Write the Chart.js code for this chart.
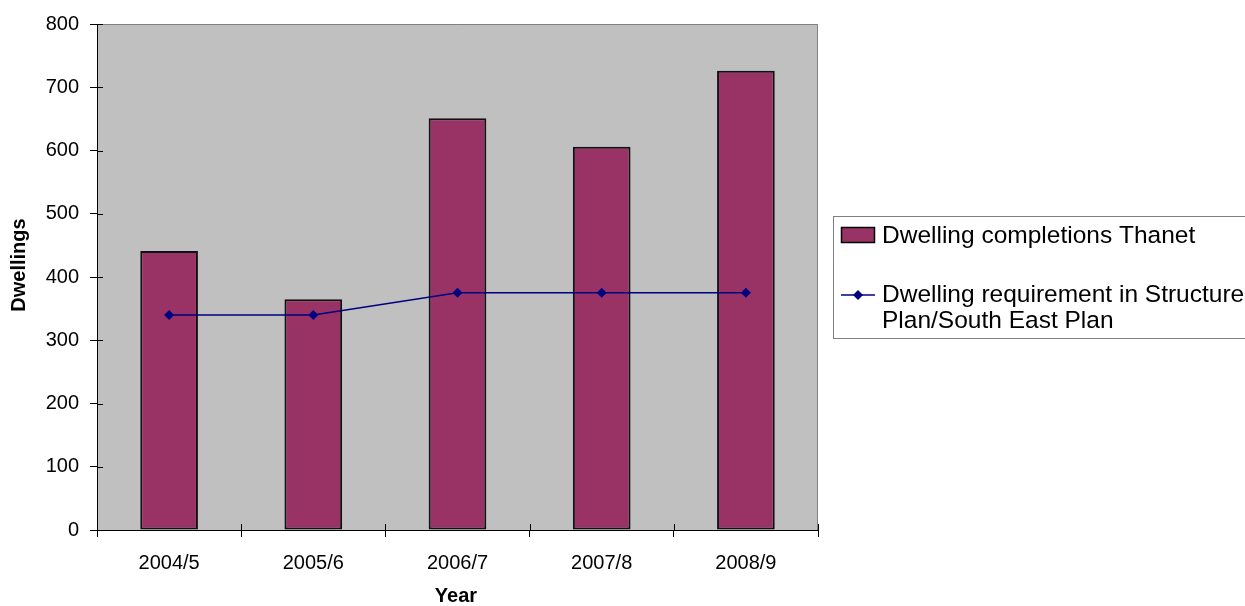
<!DOCTYPE html>
<html>
<head>
<meta charset="utf-8">
<title>Dwelling completions</title>
<script src="https://cdn.jsdelivr.net/npm/chart.js@4.4.1/dist/chart.umd.min.js"></script>
<style>
  html, body { margin: 0; padding: 0; background: #fff; }
  #wrap { width: 1245px; height: 606px; }
</style>
</head>
<body>
<div id="wrap"><canvas id="myChart" width="1245" height="606"></canvas></div>
<script>
const years = ['2004/5', '2005/6', '2006/7', '2007/8', '2008/9'];
const completions = [441, 365, 651, 606, 726];
const requirement = [340, 340, 375, 375, 375];
const barLabel = 'Dwelling completions Thanet';
const lineLabel = ['Dwelling requirement in Structure', 'Plan/South East Plan'];
const yTicks = { min: 0, max: 800, step: 100 };
const xTitle = 'Year';
const yTitle = 'Dwellings';

const barColor = '#993366';
const lineColor = '#000080';
const plotGrey = '#c0c0c0';
const frameGrey = '#808080';
const fontFamily = '"Liberation Sans", Arial, sans-serif';

Chart.defaults.font.family = fontFamily;
Chart.defaults.font.size = 20;
Chart.defaults.color = '#000';

// grey plot area with a thin frame on top and right
const plotArea = {
  id: 'plotArea',
  beforeDraw(chart) {
    const { ctx, chartArea: a } = chart;
    ctx.save();
    ctx.fillStyle = plotGrey;
    ctx.fillRect(a.left, a.top, a.right - a.left, a.bottom - a.top);
    ctx.strokeStyle = frameGrey;
    ctx.lineWidth = 1;
    ctx.beginPath();
    ctx.moveTo(a.left, a.top + 0.5);
    ctx.lineTo(a.right - 0.5, a.top + 0.5);
    ctx.lineTo(a.right - 0.5, a.bottom);
    ctx.stroke();
    ctx.restore();
  }
};

// tick marks cross the axis: add the inner half, plus the axis titles
const axisExtras = {
  id: 'axisExtras',
  afterDraw(chart) {
    const { ctx, chartArea: a, scales } = chart;
    ctx.save();
    ctx.strokeStyle = '#000';
    ctx.lineWidth = 1;
    ctx.beginPath();
    for (let v = yTicks.min; v <= yTicks.max; v += yTicks.step) {
      const y = Math.round(scales.y.getPixelForValue(v)) + 0.5;
      ctx.moveTo(a.left, y);
      ctx.lineTo(a.left + 6, y);
    }
    for (let i = 0; i <= years.length; i++) {
      const x = Math.round(scales.x.getPixelForValue(i - 0.5)) + 0.5;
      ctx.moveTo(x, a.bottom);
      ctx.lineTo(x, a.bottom - 6);
    }
    ctx.stroke();

    ctx.fillStyle = '#000';
    ctx.font = 'bold 20px ' + fontFamily;
    ctx.textAlign = 'center';
    ctx.textBaseline = 'middle';
    ctx.fillText(xTitle, 456, 596);
    ctx.translate(19, 265);
    ctx.rotate(-Math.PI / 2);
    ctx.fillText(yTitle, 0, 0);
    ctx.restore();
  }
};

// boxed legend to the right of the plot
const sideLegend = {
  id: 'sideLegend',
  afterDraw(chart) {
    const ctx = chart.ctx;
    ctx.save();
    ctx.strokeStyle = frameGrey;
    ctx.lineWidth = 1;
    ctx.strokeRect(833.5, 216.5, 420, 122);

    ctx.fillStyle = barColor;
    ctx.fillRect(841, 227, 34, 16);
    ctx.strokeStyle = '#000';
    ctx.lineWidth = 1.5;
    ctx.strokeRect(841.5, 227.5, 33, 15);

    ctx.strokeStyle = lineColor;
    ctx.lineWidth = 1.5;
    ctx.beginPath();
    ctx.moveTo(841, 295);
    ctx.lineTo(875, 295);
    ctx.stroke();
    ctx.fillStyle = lineColor;
    ctx.beginPath();
    ctx.moveTo(858, 290);
    ctx.lineTo(863, 295);
    ctx.lineTo(858, 300);
    ctx.lineTo(853, 295);
    ctx.closePath();
    ctx.fill();

    ctx.fillStyle = '#000';
    ctx.font = '24.5px ' + fontFamily;
    ctx.textBaseline = 'middle';
    ctx.fillText(barLabel, 882, 236);
    ctx.fillText(lineLabel[0], 882, 295);
    ctx.fillText(lineLabel[1], 882, 321);
    ctx.restore();
  }
};

const data = {
  labels: years,
  datasets: [
    {
      type: 'line',
      label: lineLabel.join(' '),
      data: requirement,
      borderColor: lineColor,
      borderWidth: 1.5,
      backgroundColor: lineColor,
      pointStyle: 'rectRot',
      pointRadius: 5,
      pointBorderWidth: 0,
      pointBackgroundColor: lineColor,
      tension: 0,
      order: 1
    },
    {
      type: 'bar',
      label: barLabel,
      data: completions,
      backgroundColor: barColor,
      borderColor: '#111',
      borderWidth: 2,
      borderSkipped: false,
      barPercentage: 1,
      categoryPercentage: 0.4,
      order: 2
    }
  ]
};

const config = {
  type: 'bar',
  data: data,
  options: {
    responsive: false,
    animation: false,
    events: [],
    layout: {
      padding: { left: 6, top: 24, right: 427, bottom: 0 }
    },
    scales: {
      x: {
        offset: true,
        grid: {
          offset: true,
          drawOnChartArea: false,
          tickLength: 7,
          color: '#000'
        },
        border: { color: '#000', width: 1 },
        ticks: { padding: 14, color: '#000' },
        afterFit(scale) { scale.height = 76; }
      },
      y: {
        min: yTicks.min,
        max: yTicks.max,
        grid: {
          drawOnChartArea: false,
          tickLength: 7,
          color: '#000'
        },
        border: { color: '#000', width: 1 },
        ticks: { stepSize: yTicks.step, padding: 11, color: '#000' },
        afterFit(scale) { scale.width = 91; }
      }
    },
    plugins: {
      legend: { display: false },
      tooltip: { enabled: false }
    }
  },
  plugins: [plotArea, axisExtras, sideLegend]
};

const myChart = new Chart(document.getElementById('myChart'), config);
</script>
</body>
</html>
